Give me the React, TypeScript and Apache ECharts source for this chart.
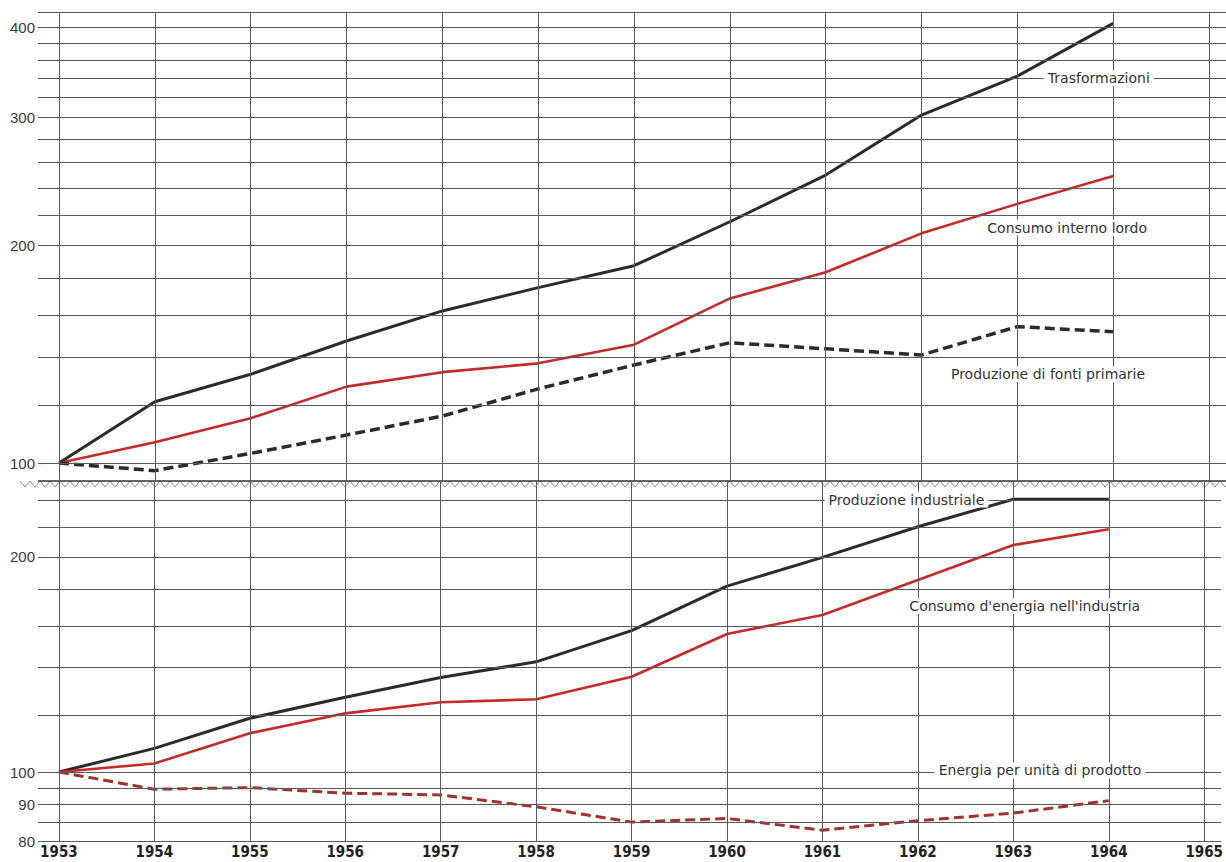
import React, { useEffect, useRef } from "react";
import * as echarts from "echarts";

// ---- data ----
const years = [1953, 1954, 1955, 1956, 1957, 1958, 1959, 1960, 1961, 1962, 1963, 1964];
const yearTicks = [1953, 1954, 1955, 1956, 1957, 1958, 1959, 1960, 1961, 1962, 1963, 1964, 1965];

const trasformazioni = [100, 121.5, 132.6, 147.4, 162.2, 174.7, 187.3, 215.4, 249.9, 302.4, 342.3, 404.9];
const consumoInternoLordo = [100, 106.8, 115.3, 127.5, 133.5, 137.3, 145.7, 168.8, 183.4, 207.6, 228, 249.2];
const produzioneFontiPrimarie = [100, 97.6, 103.1, 109.3, 116.1, 126.6, 136.6, 146.6, 143.8, 141, 154.3, 151.8];

const produzioneIndustriale = [100, 107.9, 118.9, 127.2, 135.6, 142.6, 157.7, 182, 199.6, 220.3, 240.7, 240.7];
const consumoEnergiaIndustria = [100, 102.8, 113.3, 120.8, 125.2, 126.4, 135.9, 156, 165.8, 185.6, 207.7, 218.5];
const energiaPerUnita = [100, 94.6, 95.1, 93.4, 92.9, 89.4, 85.1, 86.1, 82.9, 85.5, 87.6, 91.2];

const topGridValues = [100, 120, 140, 160, 180, 200, 220, 240, 260, 280, 300, 320, 340, 360, 380, 400, 420];
const topTickLabels = [100, 200, 300, 400];
const bottomGridValues = [80, 85, 90, 95, 100, 120, 140, 160, 180, 200, 220, 240];
const bottomTickLabels = [80, 90, 100, 200];

// ---- styling / layout ----
const X_MIN = 1952.781;
const X_MAX = 1965.177;
const GRID_COLOR = "#5a5a5a";
const BLACK = "#2b2b2b";
const RED = "#c42a28";
const DARK_RED = "#a3302b";

function gridHelper(idx: number, hValues: number[], labelValues: number[]) {
  return {
    type: "line",
    xAxisIndex: idx,
    yAxisIndex: idx,
    data: [[1953, 100]],
    symbol: "none",
    silent: true,
    z: 1,
    lineStyle: { opacity: 0 },
    markLine: {
      silent: true,
      symbol: ["none", "none"],
      lineStyle: { color: GRID_COLOR, width: 1, type: "solid" },
      label: { show: false },
      data: [
        ...hValues.map((v) => ({
          yAxis: v,
          label: labelValues.includes(v)
            ? {
                show: true,
                position: "start",
                formatter: String(v),
                color: "#3a3a3a",
                fontSize: 15,
                fontFamily: "Liberation Sans",
                distance: 3,
              }
            : { show: false },
        })),
        ...yearTicks.map((y) => ({ xAxis: y })),
      ],
    },
  };
}

function lineSeries(name: string, values: number[], idx: number, color: string, width: number, dashed: boolean) {
  return {
    name,
    type: "line",
    xAxisIndex: idx,
    yAxisIndex: idx,
    data: years.map((y, i) => [y, values[i]]),
    symbol: "none",
    z: 4,
    lineStyle: { color, width, type: dashed ? [10, 5] : "solid", cap: "butt", join: "round" },
  };
}

const labelStyle = {
  show: true,
  position: "inside",
  color: "#333",
  fontSize: 14,
  fontFamily: "DejaVu Sans",
  backgroundColor: "#fff",
  padding: [1, 4],
};

function annotations(idx: number, items: { text: string; coord: number[] }[]) {
  return {
    type: "line",
    xAxisIndex: idx,
    yAxisIndex: idx,
    data: [[1953, 100]],
    symbol: "none",
    silent: true,
    z: 2,
    lineStyle: { opacity: 0 },
    markPoint: {
      silent: true,
      symbol: "circle",
      symbolSize: 0,
      data: items.map((it) => ({
        coord: it.coord,
        value: it.text,
        label: { ...labelStyle, formatter: it.text },
      })),
    },
  };
}

const zigzag: number[][] = [];
for (let x = 20, k = 0; x <= 1230; x += 5, k++) zigzag.push([x, k % 2 ? 487 : 481]);

const option = {
  animation: false,
  backgroundColor: "#fff",
  grid: [
    { left: 38, top: 11.8, width: 1188, height: 469.2 },
    { left: 38, top: 481, width: 1188, height: 360.3 },
  ],
  xAxis: [
    { gridIndex: 0, type: "value", min: X_MIN, max: X_MAX, show: false },
    {
      gridIndex: 1,
      type: "value",
      min: X_MIN,
      max: X_MAX,
      axisLine: { show: false },
      axisTick: { show: false },
      splitLine: { show: false },
      axisLabel: {
        customValues: yearTicks,
        formatter: (v: number) => String(v),
        fontSize: 15,
        fontWeight: "bold",
        color: "#222",
        fontFamily: "'Liberation Sans Narrow', 'DejaVu Sans Condensed', 'Liberation Sans'",
        margin: 3,
      },
    },
  ],
  yAxis: [
    { gridIndex: 0, type: "log", logBase: 10, min: 94.44, max: 420, show: false },
    { gridIndex: 1, type: "log", logBase: 10, min: 80, max: 255.3, show: false },
  ],
  series: [
    gridHelper(0, topGridValues, topTickLabels),
    gridHelper(1, bottomGridValues, bottomTickLabels),
    lineSeries("Trasformazioni", trasformazioni, 0, BLACK, 3, false),
    lineSeries("Consumo interno lordo", consumoInternoLordo, 0, RED, 2.6, false),
    lineSeries("Produzione di fonti primarie", produzioneFontiPrimarie, 0, BLACK, 3.5, true),
    lineSeries("Produzione industriale", produzioneIndustriale, 1, BLACK, 3, false),
    lineSeries("Consumo d'energia nell'industria", consumoEnergiaIndustria, 1, RED, 2.6, false),
    lineSeries("Energia per unità di prodotto", energiaPerUnita, 1, DARK_RED, 3, true),
    annotations(0, [
      { text: "Trasformazioni", coord: [1963.85, 340] },
      { text: "Consumo interno lordo", coord: [1963.52, 211.3] },
      { text: "Produzione di fonti primarie", coord: [1963.32, 132.6] },
    ]),
    annotations(1, [
      { text: "Produzione industriale", coord: [1961.88, 240.5] },
      { text: "Consumo d'energia nell'industria", coord: [1963.12, 170.7] },
      { text: "Energia per unità di prodotto", coord: [1963.28, 100.5] },
    ]),
  ],
  graphic: [
    {
      type: "polyline",
      shape: { points: zigzag },
      style: { stroke: "#8a8a8a", lineWidth: 1, fill: null },
      z: 4,
    },
    {
      type: "line",
      shape: { x1: 38, y1: 481, x2: 1226, y2: 481 },
      style: { stroke: "#333", lineWidth: 1.5 },
      z: 4,
    },
  ],
};

export default function App() {
  const ref = useRef<HTMLDivElement>(null);
  useEffect(() => {
    if (!ref.current) return;
    const chart = echarts.init(ref.current, null, { renderer: "svg" });
    chart.setOption(option as any);
    return () => chart.dispose();
  }, []);
  return (
    <div
      ref={ref}
      style={{ position: "absolute", left: 0, top: 0, width: 1226, height: 862, background: "#fff" }}
    />
  );
}
